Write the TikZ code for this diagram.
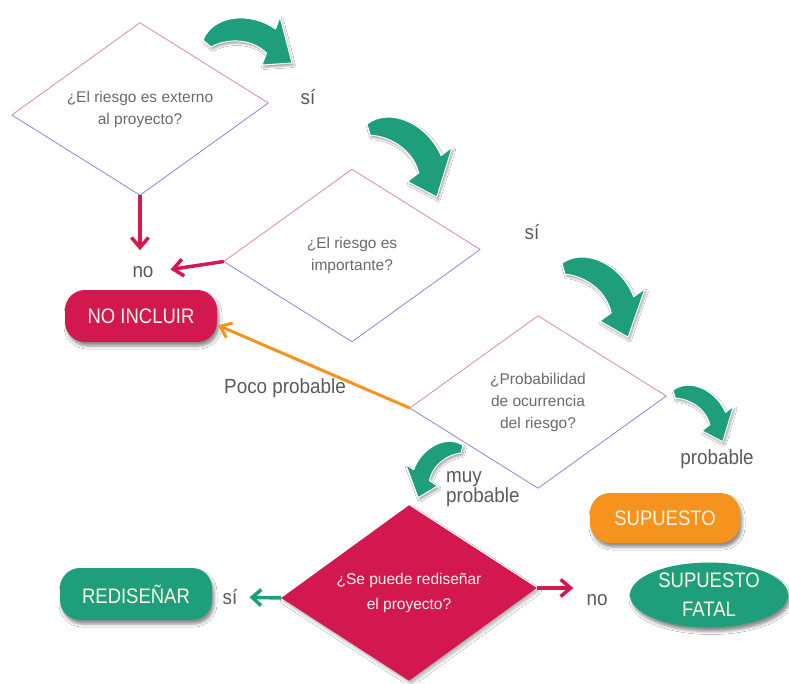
\documentclass[tikz,border=0pt]{standalone}
\usepackage{fontspec}
\setmainfont{Liberation Sans}
\newfontfamily\pillfont[FakeStretch=0.88]{Liberation Sans}
\newfontfamily\tagfont[FakeStretch=0.92]{Liberation Sans}
\usetikzlibrary{shapes.geometric,arrows.meta,shadows.blur}

\definecolor{rojo}{HTML}{D2184F}
\definecolor{verde}{HTML}{1F9E7B}
\definecolor{naranja}{HTML}{F5931E}
\definecolor{gristag}{HTML}{5A5A5A}
\definecolor{gristexto}{HTML}{6A6A6A}
\definecolor{bordearriba}{HTML}{D98AAB}
\definecolor{bordeabajo}{HTML}{8888D8}
\definecolor{crema}{HTML}{FFF6E6}

\tikzset{
  decision/.style={diamond, aspect=1.49, minimum width=256pt, minimum height=172pt,
    inner sep=0pt, align=center, text=gristexto, font=\fontsize{15.5}{22}\selectfont},
  edgetop/.style={draw=bordearriba, line width=0.8pt, line join=round},
  edgebottom/.style={draw=bordeabajo, line width=0.8pt, line join=round},
  pill/.style={fill=#1, rounded corners=20pt, minimum width=152pt, minimum height=52pt,
    inner sep=0pt, text=crema, font=\pillfont\fontsize{21}{29}\selectfont,
    blur shadow={shadow xshift=2pt, shadow yshift=-4pt, shadow blur radius=3pt, shadow opacity=45}},
  tag/.style={inner sep=0pt, text=gristag, font=\tagfont\fontsize{20.5}{19}\selectfont},
  redarrow/.style={draw=rojo, line width=3.5pt, -{Straight Barb[length=10pt,width=17pt]}},
  orangearrow/.style={draw=naranja, line width=3pt, -{Straight Barb[length=10pt,width=16pt]}},
  greenarrow/.style={draw=verde, line width=3.5pt, -{Straight Barb[length=9pt,width=16pt]}},
  % block arrow bending clockwise: blunt tail at the origin, head towards (87,20)
  bend arrow/.pic={
    \fill[verde, draw=white, line width=1pt, line join=round,
      blur shadow={shadow xshift=1.5pt, shadow yshift=-2.5pt, shadow blur radius=2pt, shadow opacity=35}]
      (-2,-3) .. controls (8,-28) and (45,-32) .. (70.5,-14)
      -- (75,-26) -- (87,20) -- (57,22) -- (61.5,10)
      .. controls (45,-6) and (20,-4) .. (6,4) -- cycle;
  }
}

\begin{document}
\begin{tikzpicture}[x=1pt,y=-1pt]
\fill[white] (0,0) rectangle (789,683);
\useasboundingbox (0,0) rectangle (789,683);

% question diamonds
\node[decision] (d1) at (140,109) {¿El riesgo es externo\\al proyecto?};
\node[decision] (d2) at (352,255.5) {¿El riesgo es\\importante?};
\node[decision] (d3) at (538,402) {¿Probabilidad\\de ocurrencia\\del riesgo?};

\foreach \d in {d1,d2,d3}{
  \draw[edgetop] ([yshift=-6pt]\d.west) -- (\d.north) -- ([yshift=6pt]\d.east);
  \draw[edgebottom] ([yshift=-6pt]\d.west) -- (\d.south) -- ([yshift=6pt]\d.east);
}

% filled decision
\node[diamond, aspect=1.46, minimum width=255pt, minimum height=175pt, inner sep=0pt]
  (d4) at (409,593) {};
\fill[rojo, blur shadow={shadow xshift=2pt, shadow yshift=-3pt, shadow blur radius=3pt, shadow opacity=30}]
  (d4.north) -- ([yshift=-5pt]d4.west) -- (d4.south) -- ([yshift=5pt]d4.east) -- cycle;
\node[align=center, text=crema, font=\fontsize{15.5}{25}\selectfont] (d4t) at (409,593)
  {¿Se puede rediseñar\\el proyecto?};

% outcomes
\node[pill=rojo] (noincl) at (141,316) {NO INCLUIR};
\node[pill=verde] (redis) at (136,594) {REDISEÑAR};
\node[pill=naranja, minimum width=150pt, minimum height=50pt] (sup) at (665,518) {SUPUESTO};
\node[ellipse, fill=verde, minimum width=158pt, minimum height=65pt, inner sep=0pt,
  align=center, text=crema, font=\pillfont\fontsize{21}{29}\selectfont,
  blur shadow={shadow xshift=2pt, shadow yshift=-4pt, shadow blur radius=3pt, shadow opacity=45}]
  (fatal) at (709,595) {SUPUESTO\\FATAL};

% branch labels
\node[tag] (si1) at (308,97) {sí};
\node[tag] (si2) at (532,232) {sí};
\node[tag] (no1) at (143,272) {no};
\node[tag] (poco) at (285,388) {Poco probable};
\node[tag] (prob) at (717,459) {probable};
\node[tag, anchor=west, align=left] (muy) at (446,489.5) {muy\\probable};
\node[tag] (si3) at (230,597) {sí};
\node[tag] (no2) at (597,600) {no};

% connectors
\draw[redarrow, shorten >=16pt] (d1.south) -- (d1.south |- no1.north);
\draw[redarrow, shorten >=17pt] ([yshift=-6pt]d2.west) -- (no1.east);
\draw[orangearrow, shorten >=1pt] ([yshift=-6pt]d3.west) -- ([yshift=-9pt]noincl.east);
\draw[greenarrow, shorten >=12pt] ([yshift=-5pt]d4.west) -- (si3.east);
\coordinate (d4e) at ([yshift=5pt]d4.east);
\draw[redarrow, shorten >=13pt] (d4e) -- (d4e -| no2.west);

% curved "yes" arrows
\pic at (205,43) {bend arrow};
\pic[rotate=-31.7, scale=1.1] at (367,128) {bend arrow};
\pic[rotate=-33.8, scale=1.08] at (562,267) {bend arrow};
\pic[rotate=-31.5, scale=0.78] at (673,393) {bend arrow};
\pic[rotate=35, xscale=-1, scale=0.75] at (463,448) {bend arrow};
\end{tikzpicture}
\end{document}
